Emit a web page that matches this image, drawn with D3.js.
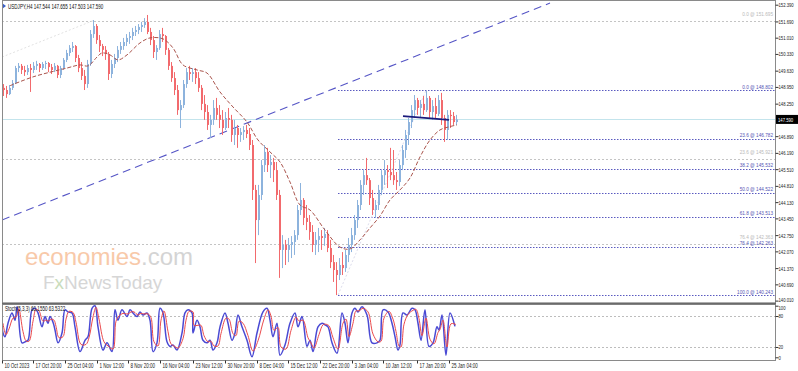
<!DOCTYPE html>
<html>
<head>
<meta charset="utf-8">
<script src="https://cdn.jsdelivr.net/npm/d3@7"></script>
<style>
  body { margin: 0; background: #fff; }
  svg { display: block; font-family: "Liberation Sans", Arial, sans-serif; }
</style>
</head>
<body>
<script>
// USDJPY H4 — each candle below groups 3 H4 bars (12h)
const firstOpen = 148.91
const highs = [
  149.07,148.99,149.03,149.24,149.83,149.95,149.91,149.83,149.87,149.91,
  149.99,150.04,149.95,149.99,150.04,149.99,149.91,149.95,149.87,149.83,
  150.16,150.50,150.70,150.83,150.70,150.29,149.99,149.66,150.08,151.33,
  151.75,151.58,151.12,150.75,150.66,150.41,150.08,150.33,150.66,150.83,
  151.00,151.16,151.25,151.42,151.50,151.58,151.67,151.83,151.96,151.42,
  151.08,150.70,151.33,151.42,151.12,150.58,149.99,149.57,149.03,148.40,
  149.24,149.74,149.83,149.74,149.74,149.57,149.03,148.61,148.19,147.78,
  148.40,148.49,148.19,147.98,147.90,148.07,147.78,147.57,147.36,147.23,
  147.31,147.36,147.23,146.73,144.85,144.85,145.89,146.52,146.40,146.10,
  145.98,145.81,144.64,142.75,142.55,142.63,142.71,142.96,144.01,144.93,
  144.30,144.01,143.59,143.17,142.88,143.05,142.96,143.05,142.96,142.55,
  141.92,141.62,141.79,142.04,142.13,142.63,143.05,143.59,144.22,145.05,
  145.47,145.98,145.14,144.64,144.22,144.85,145.47,145.89,145.68,146.40,
  146.31,145.39,145.89,146.52,147.15,147.65,148.19,148.61,148.49,148.40,
  148.57,148.78,148.57,148.40,148.49,148.61,148.70,147.78,147.98,147.98,
  147.90,147.78
]
const lows = [
  148.57,148.49,148.61,148.82,149.07,149.57,149.49,149.41,149.45,148.74,
  149.53,149.66,149.57,149.66,149.70,149.57,149.49,149.57,149.32,149.32,
  149.66,149.99,150.24,150.41,149.99,149.57,149.24,148.82,148.91,149.83,
  151.00,150.75,150.41,150.24,150.08,149.24,149.32,149.74,149.99,150.33,
  150.50,150.66,150.75,150.91,151.08,151.16,151.25,151.42,151.16,150.70,
  150.16,150.08,150.50,150.83,150.29,149.66,149.16,148.61,147.78,147.23,
  148.07,148.91,149.24,149.16,149.07,148.74,147.98,147.57,147.15,146.81,
  147.36,147.57,147.23,146.94,147.15,147.23,146.65,146.52,146.40,146.65,
  146.73,146.81,146.31,144.22,141.58,142.75,144.22,145.39,145.39,145.14,
  144.97,144.22,140.96,141.37,141.50,141.62,141.79,141.92,142.55,143.59,
  143.17,142.96,142.55,142.04,141.92,142.04,142.13,142.30,142.04,141.37,
  140.79,140.24,140.87,141.08,141.21,141.62,142.04,142.55,143.05,143.80,
  144.43,144.85,144.01,143.59,143.47,143.80,144.43,144.85,144.72,145.05,
  144.85,144.64,144.80,145.47,145.98,146.52,147.23,147.65,147.78,147.69,
  147.78,147.90,147.65,147.57,147.65,147.73,147.36,146.65,146.73,147.23,
  147.36,147.36
]
const closes = [
  148.82,148.65,148.91,149.11,149.74,149.83,149.66,149.57,149.74,149.66,
  149.83,149.91,149.74,149.91,149.95,149.78,149.66,149.83,149.45,149.74,
  150.08,150.37,150.58,150.66,150.16,149.74,149.41,149.07,149.91,151.16,
  151.50,150.91,150.66,150.50,150.33,149.49,149.91,150.16,150.50,150.66,
  150.83,151.00,151.08,151.25,151.33,151.46,151.54,151.67,151.25,150.91,
  150.41,150.58,151.16,151.08,150.50,149.83,149.32,148.82,147.98,148.19,
  149.07,149.57,149.49,149.57,149.32,148.91,148.24,147.90,147.36,147.57,
  148.07,147.78,147.57,147.23,147.65,147.57,146.94,147.23,146.94,147.06,
  147.15,146.98,146.52,144.64,143.38,144.43,145.68,146.23,145.68,145.81,
  145.47,144.43,142.13,142.34,142.13,142.34,142.46,142.75,143.80,144.22,
  143.47,143.30,142.88,142.34,142.55,142.71,142.63,142.80,142.21,141.62,
  141.29,141.08,141.50,141.37,141.92,142.34,142.75,143.38,144.01,144.85,
  145.26,145.05,144.30,143.80,144.01,144.64,145.26,145.47,145.39,145.26,
  145.05,144.97,145.68,146.31,146.94,147.48,147.98,148.40,148.07,148.24,
  147.98,148.49,147.90,148.15,147.82,148.40,147.65,147.15,147.78,147.73,
  147.48,147.59
]
const barsPerCandle = 3

// moving average (bar index, price)
const maIdx = [8,31,65,78,86,95,100,108,116,125,138,148,161,171,181,195,205,218,231,245,
  256,268,278,288,298,308,323,338,348,358,368,378,388,398,408,418,428,438,446,455]
const maVal = [149.00,149.37,149.74,149.87,149.83,150.20,150.37,150.29,150.08,150.29,
  150.79,151.00,150.96,150.58,149.87,149.66,149.53,148.74,148.11,147.48,
  146.73,146.23,145.81,144.97,144.01,143.80,142.96,142.25,142.17,142.55,
  143.05,143.55,144.22,144.64,145.14,146.02,146.73,147.15,147.27,147.36]

// stochastic (bar index, %K, %D)
const stIdx = [0,1,3,6,10,13,15,16,20,23,26,30,33,36,40,43,46,48,51,53,56,60,63,66,70,73,78,83,86,90,
  93,96,101,105,110,113,116,120,125,128,131,135,138,141,145,148,151,155,158,161,165,168,171,175,180,
  183,186,190,191,195,198,201,205,208,211,215,218,223,226,230,233,236,240,245,250,255,261,265,268,271,
  275,278,283,288,293,296,300,305,308,311,316,320,323,326,330,335,340,343,346,350,353,356,360,365,370,
  375,378,381,386,390,393,396,398,401,405,410,413,416,419,423,427,431,435,437,440,444,448,453]
const stK = [69,47,40,66,86,72,98,92,28,30,33,92,95,86,59,79,66,79,68,53,28,47,92,88,86,59,11,33,40,95,
  100,59,14,28,11,92,72,92,79,92,86,79,88,82,86,72,11,28,95,86,30,21,24,14,47,86,92,86,47,72,59,33,28,33,
  14,28,59,86,66,33,47,82,59,33,1,47,88,95,72,40,66,4,24,66,86,59,79,21,33,11,59,66,63,59,28,8,86,66,28,
  86,95,88,98,82,28,28,33,92,88,66,40,14,24,86,82,95,92,66,33,92,21,28,59,53,82,4,86,60]
const stD = [66,55,44,55,76,78,88,94,50,32,31,70,93,90,70,72,70,74,72,60,38,40,74,89,87,68,25,25,38,78,
  97,74,30,22,16,70,80,85,84,88,88,82,85,84,84,77,30,22,72,90,50,26,22,18,36,72,89,88,62,62,62,42,30,31,
  22,22,46,76,74,46,42,70,66,42,12,32,74,92,80,52,58,20,16,52,78,70,72,38,28,18,44,63,64,61,38,16,66,74,40,
  66,90,90,95,88,45,30,31,76,89,74,50,22,20,64,83,91,93,75,42,76,35,26,48,54,72,20,65,63.5]

// fibonacci retracement (blue) and older one (grey)
const fibLevels = ["0.0","23.6","38.2","50.0","61.8","76.4","100.0"]
const fibPrices = [148.802,146.782,145.532,144.522,143.513,142.263,140.243]
const fibStartIdx = 336
const fibDiag = [[336,140.243],[424,148.802]]
const oldFibLevels = ["0.0","23.6","76.4"]
const oldFibPrices = [151.695,145.921,142.363]
const oldFibDiag = [[0,150.20],[91,151.72]]

// drawn lines
const trendLine = [[0,143.38],[548,152.46]]
const shortLine = [[401,147.73],[447,147.57]]
const lastPrice = 147.590

// axes
const priceTicks = [152.390,151.690,151.010,150.330,149.630,148.950,148.250,146.890,146.190,
  145.510,144.810,144.130,143.450,142.750,142.070,141.370,140.690,140.010]
const timeIdx = [0,31,63,95,126,158,191,223,255,286,318,350,381,415,447]
const timeLabels = ["10 Oct 2023","17 Oct 20:00","25 Oct 04:00","1 Nov 12:00","8 Nov 20:00",
  "16 Nov 04:00","23 Nov 12:00","30 Nov 20:00","8 Dec 04:00","15 Dec 12:00","22 Dec 20:00",
  "3 Jan 04:00","10 Jan 12:00","17 Jan 20:00","25 Jan 04:00"]
const stochTicks = [0,20,80,100]

// dimensions
const width = 798, height = 371
const plot = { left: 2, right: 775, top: 0.5, bottom: 303 }
const sub = { top: 304.5, bottom: 360.5 }
const SQ = 0.7   // screenshot text is squeezed horizontally

const svg = d3.select("body").append("svg")
  .attr("width", width).attr("height", height)

svg.append("rect").attr("width", width).attr("height", height).attr("fill", "#fff")

const defs = svg.append("defs")
defs.append("clipPath").attr("id", "clipMain").append("rect")
  .attr("x", plot.left).attr("y", plot.top).attr("width", plot.right - plot.left).attr("height", plot.bottom - plot.top)
defs.append("clipPath").attr("id", "clipSub").append("rect")
  .attr("x", plot.left).attr("y", sub.top).attr("width", plot.right - plot.left).attr("height", sub.bottom - sub.top)

// scales
const x = d3.scaleLinear().domain([0, 773]).range([plot.left, plot.right])
const y = d3.scaleLinear().domain([140.01, 152.39]).range([300.6, 4.7])
const ys = d3.scaleLinear().domain([0, 100]).range([357.3, 305.7])

const main = svg.append("g").attr("clip-path", "url(#clipMain)")

// grey (old) fib lines, full width
main.selectAll(".oldfib").data(oldFibPrices).join("line")
  .attr("x1", plot.left).attr("x2", plot.right)
  .attr("y1", d => Math.round(y(d)) + 0.5).attr("y2", d => Math.round(y(d)) + 0.5)
  .attr("stroke", "#c4c4c4").attr("stroke-dasharray", "2,2")

main.append("line")
  .attr("x1", x(oldFibDiag[0][0])).attr("y1", y(oldFibDiag[0][1]))
  .attr("x2", x(oldFibDiag[1][0])).attr("y2", y(oldFibDiag[1][1]))
  .attr("stroke", "#e2e2e2").attr("stroke-dasharray", "2,2")

// blue fib lines
main.selectAll(".fib").data(fibPrices).join("line")
  .attr("x1", x(fibStartIdx)).attr("x2", plot.right)
  .attr("y1", d => Math.round(y(d)) + 0.5).attr("y2", d => Math.round(y(d)) + 0.5)
  .attr("stroke", "#5a5ac0").attr("stroke-dasharray", "1.5,1.5")

main.append("line")
  .attr("x1", x(fibDiag[0][0])).attr("y1", y(fibDiag[0][1]))
  .attr("x2", x(fibDiag[1][0])).attr("y2", y(fibDiag[1][1]))
  .attr("stroke", "#dcdcec").attr("stroke-dasharray", "2,2")

// current price line
main.append("line")
  .attr("x1", plot.left).attr("x2", plot.right)
  .attr("y1", Math.round(y(lastPrice)) + 0.5).attr("y2", Math.round(y(lastPrice)) + 0.5)
  .attr("stroke", "#c3e4ec")

// trend line
main.append("line")
  .attr("x1", x(trendLine[0][0])).attr("y1", y(trendLine[0][1]))
  .attr("x2", x(trendLine[1][0])).attr("y2", y(trendLine[1][1]))
  .attr("stroke", "#5656c6").attr("stroke-width", 1.1).attr("stroke-dasharray", "8,5")

// candles
const candles = closes.map((c, k) => ({
  k, o: k ? closes[k - 1] : firstOpen, h: highs[k], l: lows[k], c
}))
const bull = "#8db3dd", bear = "#f26a6d"
const colorOf = d => d.c >= d.o ? bull : bear

main.append("g").selectAll("line").data(candles).join("line")
  .attr("x1", d => x(d.k * barsPerCandle + 1.5)).attr("x2", d => x(d.k * barsPerCandle + 1.5))
  .attr("y1", d => y(Math.max(d.h, d.o, d.c))).attr("y2", d => y(Math.min(d.l, d.o, d.c)))
  .attr("stroke", colorOf).attr("stroke-width", 1)

main.append("g").selectAll("rect").data(candles).join("rect")
  .attr("x", d => x(d.k * barsPerCandle) + 1)
  .attr("width", 2)
  .attr("y", d => y(Math.max(d.o, d.c)))
  .attr("height", d => Math.max(1, Math.abs(y(d.o) - y(d.c))))
  .attr("fill", colorOf)

// moving average
main.append("path")
  .datum(maIdx.map((d, i) => [d, maVal[i]]))
  .attr("d", d3.line().x(d => x(d[0])).y(d => y(d[1])).curve(d3.curveCatmullRom))
  .attr("fill", "none").attr("stroke", "#a9544c").attr("stroke-width", 1)
  .attr("stroke-dasharray", "4,2")

// short navy line
main.append("line")
  .attr("x1", x(shortLine[0][0])).attr("y1", y(shortLine[0][1]))
  .attr("x2", x(shortLine[1][0])).attr("y2", y(shortLine[1][1]))
  .attr("stroke", "#1b1b7c").attr("stroke-width", 1.8)

// watermark
const wm = svg.append("g")
const t1 = wm.append("text").attr("x", 25).attr("y", 265).attr("font-size", 24)
t1.append("tspan").attr("fill", "#f8c9a9").text("economies")
t1.append("tspan").attr("fill", "#d4d4d4").text(".com")
const t2 = wm.append("text").attr("x", 43).attr("y", 289).attr("font-size", 19)
t2.append("tspan").attr("fill", "#d6d6d6").text("F")
t2.append("tspan").attr("fill", "#c9dcbb").text("x")
t2.append("tspan").attr("fill", "#d6d6d6").text("NewsToday")

// squeezed text helper
function squeezed(g, px, py, str, fill, anchor, size, sx) {
  return g.append("text")
    .attr("transform", `translate(${px},${py}) scale(${sx || SQ},1)`)
    .attr("text-anchor", anchor || "start")
    .attr("font-size", size || 6.5)
    .attr("fill", fill)
    .text(str)
}
const labels = svg.append("g")
// grey labels sit a little higher than the blue ones
oldFibPrices.forEach((p, i) =>
  squeezed(labels, 773, y(p) - 5.5, `${oldFibLevels[i]} @ ${p.toFixed(3)}`, "#b9b9b9", "end", 6, 0.78))
fibPrices.forEach((p, i) =>
  squeezed(labels, 773, y(p) - 1.5, `${fibLevels[i]} @ ${p.toFixed(3)}`, "#5454b4", "end", 6, 0.78))

// title
svg.append("path").attr("d", "M2,3 L6,6 L2,9 Z").attr("fill", "#3a5fc8")
squeezed(svg, 8, 8.5, "USDJPY,H4  147.544 147.655 147.503 147.590", "#111")

// stochastic panel
const st = svg.append("g").attr("clip-path", "url(#clipSub)")
st.selectAll(".grid").data([20, 80]).join("line")
  .attr("x1", plot.left).attr("x2", plot.right)
  .attr("y1", d => Math.round(ys(d)) + 0.5).attr("y2", d => Math.round(ys(d)) + 0.5)
  .attr("stroke", "#bdbdbd").attr("stroke-dasharray", "2,2")

const stLine = d3.line().x(d => x(d[0])).y(d => ys(d[1])).curve(d3.curveCatmullRom)
st.append("path").datum(stIdx.map((d, i) => [d, stK[i]]))
  .attr("d", stLine).attr("fill", "none").attr("stroke", "#4a4ad4").attr("stroke-width", 1.5)
st.append("path").datum(stIdx.map((d, i) => [d + 1, stD[i]]))
  .attr("d", stLine).attr("fill", "none").attr("stroke", "#ea4a4c").attr("stroke-width", 1)

squeezed(svg, 5, 311, "Stoch(5,3,3) 60.1550 63.5322", "#111")

// frames
svg.append("rect").attr("x", plot.left + 0.5).attr("y", plot.top).attr("width", plot.right - plot.left)
  .attr("height", plot.bottom - plot.top).attr("fill", "none").attr("stroke", "#8a8a8a")
svg.append("rect").attr("x", plot.left + 0.5).attr("y", sub.top).attr("width", plot.right - plot.left)
  .attr("height", sub.bottom - sub.top).attr("fill", "none").attr("stroke", "#8a8a8a")
svg.append("line").attr("x1", plot.left).attr("x2", plot.right + 1).attr("y1", 303.5).attr("y2", 303.5)
  .attr("stroke", "#6a6a6a").attr("stroke-width", 1.5)

// price axis
const yAxis = svg.append("g").attr("transform", `translate(${plot.right + 0.5},0)`)
  .call(d3.axisRight(y).tickValues(priceTicks).tickSize(3).tickFormat(d3.format(".3f")))
yAxis.select(".domain").remove()
yAxis.selectAll("line").attr("stroke", "#333")
yAxis.selectAll("text")
  .attr("x", 3 / SQ).attr("transform", `scale(${SQ},1)`)
  .attr("font-size", 6).attr("fill", "#222").attr("font-family", "Liberation Sans, Arial")
  .attr("dy", d => d === 140.010 ? "0.1em" : "0.32em")

// last price box
svg.append("rect").attr("x", 776).attr("y", y(lastPrice) - 4.5).attr("width", 22).attr("height", 9).attr("fill", "#000")
squeezed(svg, 778, y(lastPrice) + 2.2, lastPrice.toFixed(3), "#fff", "start", 6)

// stochastic axis
const sAxis = svg.append("g").attr("transform", `translate(${plot.right + 0.5},0)`)
  .call(d3.axisRight(ys).tickValues(stochTicks).tickSize(3))
sAxis.select(".domain").remove()
sAxis.selectAll("line").attr("stroke", "#333")
sAxis.selectAll("text")
  .attr("x", 3 / SQ).attr("transform", `scale(${SQ},1)`)
  .attr("font-size", 6).attr("fill", "#222").attr("font-family", "Liberation Sans, Arial")
  .attr("dy", d => d === 100 ? "0.6em" : "0.32em")

// time axis
const xAxis = svg.append("g").attr("transform", `translate(0,${sub.bottom})`)
  .call(d3.axisBottom(x).tickValues(timeIdx).tickSize(3).tickFormat((d, i) => timeLabels[i]))
xAxis.select(".domain").remove()
xAxis.selectAll("line").attr("stroke", "#333")
xAxis.selectAll("text")
  .attr("text-anchor", "start")
  .attr("y", 2.5).attr("x", 2 / SQ)
  .attr("transform", `scale(${SQ},1)`)
  .attr("font-size", 6.5).attr("fill", "#222").attr("font-family", "Liberation Sans, Arial")
</script>
</body>
</html>
